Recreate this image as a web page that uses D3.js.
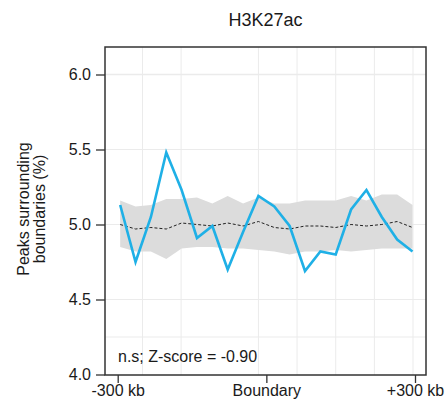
<!DOCTYPE html>
<html>
<head>
<meta charset="utf-8">
<script src="https://cdn.jsdelivr.net/npm/d3@7"></script>
<style>
  body { margin: 0; background: #fff; }
  text { font-family: "Liberation Sans", Arial, sans-serif; fill: #1a1a1a; }
</style>
</head>
<body>
<div id="chart"></div>
<script>
// bin centres (kb from boundary)
const binKb = [-295, -264, -233, -202, -171, -140, -109, -78, -47, -16,
               16, 47, 78, 109, 140, 171, 202, 233, 264, 295];
// observed % of peaks
const observed = [5.13, 4.75, 5.05, 5.48, 5.23, 4.91, 4.99, 4.70, 4.95, 5.19,
                  5.12, 4.99, 4.69, 4.82, 4.80, 5.10, 5.23, 5.05, 4.90, 4.82];
// random expectation: mean and band
const expMean = [5.00, 4.97, 4.98, 4.97, 5.01, 5.00, 4.99, 5.01, 4.99, 5.02,
                 4.98, 4.97, 4.99, 4.99, 4.98, 5.00, 4.99, 5.00, 5.02, 4.98];
const expHigh = [5.16, 5.12, 5.13, 5.17, 5.17, 5.18, 5.14, 5.19, 5.14, 5.18,
                 5.14, 5.14, 5.16, 5.16, 5.16, 5.19, 5.16, 5.20, 5.20, 5.13];
const expLow  = [4.85, 4.82, 4.82, 4.77, 4.84, 4.85, 4.85, 4.84, 4.84, 4.83,
                 4.82, 4.80, 4.82, 4.82, 4.83, 4.82, 4.83, 4.84, 4.84, 4.84];

const yTicks = [4.0, 4.5, 5.0, 5.5, 6.0];
const xTickKb = [-300, 0, 300];
const xTickLabels = ["-300 kb", "Boundary", "+300 kb"];
const gridKb = [-250, -172, -16, 62, 140, 218, 296];
const gridY = [4.25, 4.5, 5.0, 5.5, 6.0];

const title = "H3K27ac";
const yTitle = ["Peaks surrounding", "boundaries (%)"];
const note = "n.s; Z-score = -0.90";

let width = 448, height = 404;
let panel = { left: 105, right: 426, top: 47, bottom: 375 };

let svg = d3.select("#chart").append("svg")
  .attr("width", width)
  .attr("height", height);

let x = d3.scaleLinear().domain([-300, 300]).range([117.7, 415]);
let y = d3.scaleLinear().domain([4.0, 6.0]).range([374.5, 74.5]);

let data = binKb.map((kb, i) => ({
  kb: kb, obs: observed[i], mean: expMean[i], hi: expHigh[i], lo: expLow[i]
}));

// grid
let grid = svg.append("g");
grid.selectAll(".gx").data(gridKb).enter().append("line")
  .attr("x1", d => x(d)).attr("x2", d => x(d))
  .attr("y1", panel.top).attr("y2", panel.bottom)
  .attr("stroke", "#ebebeb").attr("stroke-width", 1);
grid.selectAll(".gy").data(gridY).enter().append("line")
  .attr("x1", panel.left).attr("x2", panel.right)
  .attr("y1", d => y(d)).attr("y2", d => y(d))
  .attr("stroke", "#ebebeb").attr("stroke-width", d => d === 6.0 ? 1.5 : 1);

// expected band
svg.append("path")
  .datum(data)
  .attr("fill", "#dcdcdc")
  .attr("d", d3.area().x(d => x(d.kb)).y0(d => y(d.lo)).y1(d => y(d.hi)));

// expected mean
svg.append("path")
  .datum(data)
  .attr("fill", "none")
  .attr("stroke", "#222")
  .attr("stroke-width", 1)
  .attr("stroke-dasharray", "3,2")
  .attr("d", d3.line().x(d => x(d.kb)).y(d => y(d.mean)));

// observed
svg.append("path")
  .datum(data)
  .attr("fill", "none")
  .attr("stroke", "#1fb0e6")
  .attr("stroke-width", 2.6)
  .attr("stroke-linejoin", "miter")
  .attr("d", d3.line().x(d => x(d.kb)).y(d => y(d.obs)));

// panel border
svg.append("rect")
  .attr("x", panel.left).attr("y", panel.top)
  .attr("width", panel.right - panel.left)
  .attr("height", panel.bottom - panel.top)
  .attr("fill", "none")
  .attr("stroke", "#333")
  .attr("stroke-width", 1.5);

// axes
let yAxis = svg.append("g")
  .attr("transform", "translate(" + panel.left + ",0)")
  .call(d3.axisLeft(y).tickValues(yTicks).tickFormat(d3.format(".1f"))
    .tickSize(9).tickPadding(5));
yAxis.select(".domain").remove();
yAxis.selectAll("line").attr("stroke", "#333").attr("stroke-width", 1.3);
yAxis.selectAll("text").style("font-size", "16px").attr("fill", "#1a1a1a");

let xAxis = svg.append("g")
  .attr("transform", "translate(0," + panel.bottom + ")")
  .call(d3.axisBottom(x).tickValues(xTickKb)
    .tickFormat((d, i) => xTickLabels[i]).tickSize(8).tickPadding(2));
xAxis.select(".domain").remove();
xAxis.selectAll("line").attr("stroke", "#333").attr("stroke-width", 1.3);
xAxis.selectAll("text").style("font-size", "16px").attr("fill", "#1a1a1a");

// titles
svg.append("text")
  .attr("x", (panel.left + panel.right) / 2)
  .attr("y", 26)
  .attr("text-anchor", "middle")
  .style("font-size", "18px")
  .text(title);

svg.append("text")
  .attr("transform", "translate(29,209) rotate(-90)")
  .attr("text-anchor", "middle")
  .style("font-size", "16px")
  .selectAll("tspan").data(yTitle).enter().append("tspan")
    .attr("x", 0)
    .attr("dy", (d, i) => i === 0 ? 0 : 16)
    .text(d => d);

svg.append("text")
  .attr("x", 118)
  .attr("y", 362)
  .style("font-size", "16px")
  .text(note);
</script>
</body>
</html>
